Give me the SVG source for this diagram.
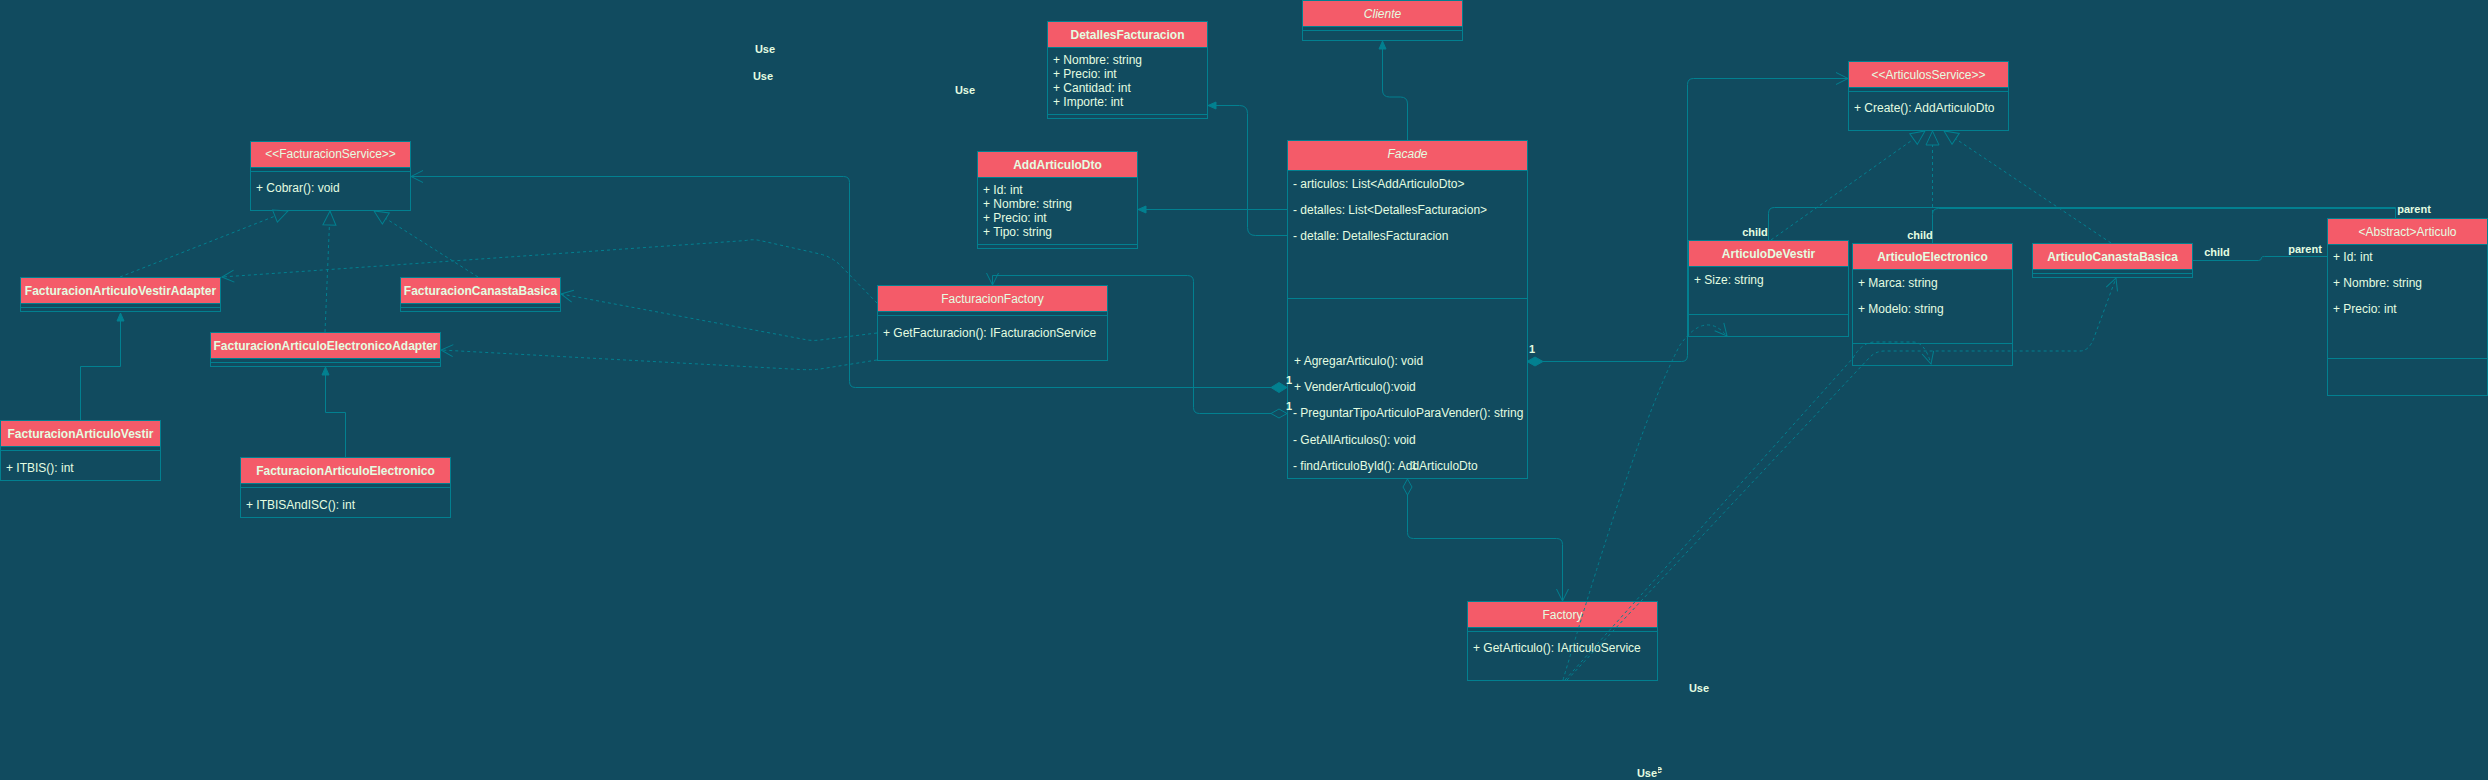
<svg xmlns="http://www.w3.org/2000/svg" width="2488" height="780" viewBox="0 0 2488 780">
<style>
.bg{fill:#114B5F}
.box{fill:#114B5F;stroke:#028090;stroke-width:1}
.hdr{fill:#F45B69;stroke:#028090;stroke-width:1}
.sep{stroke:#028090;stroke-width:1;fill:none}
.t{font-family:"Liberation Sans",Arial,sans-serif;font-size:12px;fill:#E4FDE1}
.b{font-weight:bold}
.c{text-anchor:middle}
.i{font-style:italic}
.e{fill:none;stroke:#028090;stroke-width:1}
.d{stroke-dasharray:3 3}
.l{font-family:"Liberation Sans",Arial,sans-serif;font-size:11px;fill:#E4FDE1;text-anchor:middle}
.dF{fill:#028090;stroke:#028090}
.dH{fill:#114B5F;stroke:#028090}
</style>
<defs>
<marker id="open" viewBox="0 0 14 14" markerWidth="14" markerHeight="14" refX="13" refY="7" orient="auto" markerUnits="userSpaceOnUse"><path d="M1,1 L13,7 L1,13" fill="none" stroke="#028090"/></marker>
<marker id="tri" viewBox="0 0 16 16" markerWidth="16" markerHeight="16" refX="15" refY="8" orient="auto" markerUnits="userSpaceOnUse"><path d="M1,1.5 L15,8 L1,14.5 Z" fill="#114B5F" stroke="#028090"/></marker>
<marker id="blk" viewBox="0 0 10 10" markerWidth="10" markerHeight="10" refX="9" refY="5" orient="auto" markerUnits="userSpaceOnUse"><path d="M1,1.5 L9,5 L1,8.5 Z" fill="#028090" stroke="#028090"/></marker>
</defs>
<rect class="bg" x="0" y="0" width="2488" height="780"/>

<g id="nodes">
<g id="FacturacionService">
<rect class="box" x="250.5" y="141.5" width="160" height="69"/>
<rect class="hdr" x="250.5" y="141.5" width="160" height="26"/>
<line class="sep" x1="250.5" y1="171.5" x2="410.5" y2="171.5"/>
<text class="t c" x="330.5" y="158">&lt;&lt;FacturacionService&gt;&gt;</text>
<text class="t" x="256" y="192">+ Cobrar(): void</text>
</g>
<g id="FacturacionArticuloVestirAdapter">
<rect class="box" x="20.5" y="277.5" width="200" height="34"/>
<rect class="hdr" x="20.5" y="277.5" width="200" height="26"/>
<line class="sep" x1="20.5" y1="307.5" x2="220.5" y2="307.5"/>
<text class="t b c" x="120.5" y="294.5">FacturacionArticuloVestirAdapter</text>
</g>
<g id="FacturacionCanastaBasica">
<rect class="box" x="400.5" y="277.5" width="160" height="34"/>
<rect class="hdr" x="400.5" y="277.5" width="160" height="26"/>
<line class="sep" x1="400.5" y1="307.5" x2="560.5" y2="307.5"/>
<text class="t b c" x="480.5" y="294.5">FacturacionCanastaBasica</text>
</g>
<g id="FacturacionArticuloElectronicoAdapter">
<rect class="box" x="210.5" y="332.5" width="230" height="34"/>
<rect class="hdr" x="210.5" y="332.5" width="230" height="26"/>
<line class="sep" x1="210.5" y1="362.5" x2="440.5" y2="362.5"/>
<text class="t b c" x="325.5" y="349.5">FacturacionArticuloElectronicoAdapter</text>
</g>
<g id="FacturacionArticuloVestir">
<rect class="box" x="0.5" y="420.5" width="160" height="60"/>
<rect class="hdr" x="0.5" y="420.5" width="160" height="26"/>
<line class="sep" x1="0.5" y1="450.5" x2="160.5" y2="450.5"/>
<text class="t b c" x="80.5" y="437.5">FacturacionArticuloVestir</text>
<text class="t" x="6" y="472">+ ITBIS(): int</text>
</g>
<g id="FacturacionArticuloElectronico">
<rect class="box" x="240.5" y="457.5" width="210" height="60"/>
<rect class="hdr" x="240.5" y="457.5" width="210" height="26"/>
<line class="sep" x1="240.5" y1="487.5" x2="450.5" y2="487.5"/>
<text class="t b c" x="345.5" y="474.5">FacturacionArticuloElectronico</text>
<text class="t" x="246" y="509">+ ITBISAndISC(): int</text>
</g>
<g id="FacturacionFactory">
<rect class="box" x="877.5" y="285.5" width="230" height="75"/>
<rect class="hdr" x="877.5" y="285.5" width="230" height="26"/>
<line class="sep" x1="877.5" y1="315.5" x2="1107.5" y2="315.5"/>
<text class="t c" x="992.5" y="302.5">FacturacionFactory</text>
<text class="t" x="883" y="337">+ GetFacturacion(): IFacturacionService</text>
</g>
<g id="DetallesFacturacion">
<rect class="box" x="1047.5" y="21.5" width="160" height="97"/>
<rect class="hdr" x="1047.5" y="21.5" width="160" height="26"/>
<line class="sep" x1="1047.5" y1="114.5" x2="1207.5" y2="114.5"/>
<text class="t b c" x="1127.5" y="38.5">DetallesFacturacion</text>
<text class="t" x="1053" y="64">+ Nombre: string</text>
<text class="t" x="1053" y="78">+ Precio: int</text>
<text class="t" x="1053" y="92">+ Cantidad: int</text>
<text class="t" x="1053" y="106">+ Importe: int</text>
</g>
<g id="AddArticuloDto">
<rect class="box" x="977.5" y="151.5" width="160" height="97"/>
<rect class="hdr" x="977.5" y="151.5" width="160" height="26"/>
<line class="sep" x1="977.5" y1="244.5" x2="1137.5" y2="244.5"/>
<text class="t b c" x="1057.5" y="168.5">AddArticuloDto</text>
<text class="t" x="983" y="194">+ Id: int</text>
<text class="t" x="983" y="208">+ Nombre: string</text>
<text class="t" x="983" y="222">+ Precio: int</text>
<text class="t" x="983" y="236">+ Tipo: string</text>
</g>
<g id="Cliente">
<rect class="box" x="1302.5" y="0.5" width="160" height="40"/>
<rect class="hdr" x="1302.5" y="0.5" width="160" height="26"/>
<line class="sep" x1="1302.5" y1="30.5" x2="1462.5" y2="30.5"/>
<text class="t c i" x="1382.5" y="18">Cliente</text>
</g>
<g id="Facade">
<rect class="box" x="1287.5" y="140.5" width="240" height="338"/>
<rect class="hdr" x="1287.5" y="140.5" width="240" height="30"/>
<line class="sep" x1="1287.5" y1="298.5" x2="1527.5" y2="298.5"/>
<text class="t c i" x="1407.5" y="158">Facade</text>
<text class="t" x="1293" y="188">- articulos: List&lt;AddArticuloDto&gt;</text>
<text class="t" x="1293" y="214">- detalles: List&lt;DetallesFacturacion&gt;</text>
<text class="t" x="1293" y="240">- detalle: DetallesFacturacion</text>
<text class="t" x="1294" y="365">+ AgregarArticulo(): void</text>
<text class="t" x="1294" y="391">+ VenderArticulo():void</text>
<text class="t" x="1293" y="417">- PreguntarTipoArticuloParaVender(): string</text>
<text class="t" x="1293" y="444">- GetAllArticulos(): void</text>
<text class="t" x="1293" y="470">- findArticuloById(): AddArticuloDto</text>
</g>
<g id="Factory">
<rect class="box" x="1467.5" y="601.5" width="190" height="79"/>
<rect class="hdr" x="1467.5" y="601.5" width="190" height="26"/>
<line class="sep" x1="1467.5" y1="631.5" x2="1657.5" y2="631.5"/>
<text class="t c" x="1562.5" y="618.5">Factory</text>
<text class="t" x="1473" y="652">+ GetArticulo(): IArticuloService</text>
</g>
<g id="ArticulosService">
<rect class="box" x="1848.5" y="61.5" width="160" height="69"/>
<rect class="hdr" x="1848.5" y="61.5" width="160" height="26"/>
<line class="sep" x1="1848.5" y1="91.5" x2="2008.5" y2="91.5"/>
<text class="t c" x="1928.5" y="78.5">&lt;&lt;ArticulosService&gt;&gt;</text>
<text class="t" x="1854" y="112">+ Create(): AddArticuloDto</text>
</g>
<g id="ArticuloDeVestir">
<rect class="box" x="1688.5" y="240.5" width="160" height="96"/>
<rect class="hdr" x="1688.5" y="240.5" width="160" height="26"/>
<line class="sep" x1="1688.5" y1="314.5" x2="1848.5" y2="314.5"/>
<text class="t b c" x="1768.5" y="257.5">ArticuloDeVestir</text>
<text class="t" x="1694" y="284">+ Size: string</text>
</g>
<g id="ArticuloElectronico">
<rect class="box" x="1852.5" y="243.5" width="160" height="122"/>
<rect class="hdr" x="1852.5" y="243.5" width="160" height="26"/>
<line class="sep" x1="1852.5" y1="343.5" x2="2012.5" y2="343.5"/>
<text class="t b c" x="1932.5" y="260.5">ArticuloElectronico</text>
<text class="t" x="1858" y="287">+ Marca: string</text>
<text class="t" x="1858" y="313">+ Modelo: string</text>
</g>
<g id="ArticuloCanastaBasica">
<rect class="box" x="2032.5" y="243.5" width="160" height="34"/>
<rect class="hdr" x="2032.5" y="243.5" width="160" height="26"/>
<line class="sep" x1="2032.5" y1="273.5" x2="2192.5" y2="273.5"/>
<text class="t b c" x="2112.5" y="260.5">ArticuloCanastaBasica</text>
</g>
<g id="Articulo">
<rect class="box" x="2327.5" y="218.5" width="160" height="177"/>
<rect class="hdr" x="2327.5" y="218.5" width="160" height="26"/>
<line class="sep" x1="2327.5" y1="358.5" x2="2487.5" y2="358.5"/>
<text class="t c" x="2407.5" y="235.5">&lt;Abstract&gt;Articulo</text>
<text class="t" x="2333" y="261">+ Id: int</text>
<text class="t" x="2333" y="287">+ Nombre: string</text>
<text class="t" x="2333" y="313">+ Precio: int</text>
</g>
</g>

<g id="connectors">
<!-- left group -->
<path class="e" d="M80.5,420 V366.5 H120.5 V313" marker-end="url(#blk)"/>
<path class="e" d="M345.5,457 V412.5 H325.5 V367" marker-end="url(#blk)"/>
<path class="e d" d="M120,277 L288,211" marker-end="url(#tri)"/>
<path class="e d" d="M325,332 L330,211" marker-end="url(#tri)"/>
<path class="e d" d="M478,277 L374,211" marker-end="url(#tri)"/>
<!-- Facade -> FacturacionService -->
<path class="e" d="M1271,387.5 H855.5 Q849.5,387.5 849.5,381.5 V182.5 Q849.5,176.5 843.5,176.5 H411" marker-end="url(#open)"/>
<polygon class="dF" points="1287,387.5 1279,382.5 1271,387.5 1279,392.5"/>
<!-- Facade -> FacturacionFactory -->
<path class="e" d="M1271,413.5 H1199.5 Q1193.5,413.5 1193.5,407.5 V281.5 Q1193.5,275.5 1187.5,275.5 H992.5 V285" marker-end="url(#open)"/>
<polygon class="dH" points="1287,413.5 1279,409 1271,413.5 1279,418"/>
<!-- FacturacionFactory dashed uses -->
<path class="e d" d="M877,303 L840,265 Q832,257 820,254 L760,240.5 Q753,239 746,240.5 L222,277" marker-end="url(#open)"/>
<path class="e d" d="M877,333 L820,340 Q812,341 805,339.5 L561,294" marker-end="url(#open)"/>
<path class="e d" d="M877,360 L820,369 Q812,370 800,369.5 L441,350" marker-end="url(#open)"/>
<!-- Facade -> DetallesFacturacion / AddArticuloDto -->
<path class="e" d="M1287,235.5 H1255.5 Q1247.5,235.5 1247.5,227.5 V113.5 Q1247.5,105.5 1239.5,105.5 H1208" marker-end="url(#blk)"/>
<path class="e" d="M1287,209.5 H1138" marker-end="url(#blk)"/>
<!-- Facade -> Cliente -->
<path class="e" d="M1407.5,140 V104 Q1407.5,97 1400.5,97 H1389.5 Q1382.5,97 1382.5,90 V41" marker-end="url(#blk)"/>
<!-- Facade -> Factory -->
<path class="e" d="M1407.5,495 V532.5 Q1407.5,538.5 1413.5,538.5 H1556.5 Q1562.5,538.5 1562.5,544.5 V601" marker-end="url(#open)"/>
<polygon class="dH" points="1407.5,479 1412,487 1407.5,495 1403,487"/>
<!-- Facade -> ArticulosService -->
<path class="e" d="M1543,361.5 H1681.5 Q1687.5,361.5 1687.5,355.5 V84.5 Q1687.5,78.5 1693.5,78.5 H1848" marker-end="url(#open)"/>
<polygon class="dF" points="1527,361.5 1535,357 1543,361.5 1535,366"/>
<!-- realizations to ArticulosService -->
<path class="e d" d="M1771,240 L1925,131" marker-end="url(#tri)"/>
<path class="e d" d="M1932.5,243 V131" marker-end="url(#tri)"/>
<path class="e d" d="M2111,243 L1944,131" marker-end="url(#tri)"/>
<!-- generalizations to Articulo -->
<path class="e" d="M1768.5,240 V213.5 Q1768.5,207.5 1774.5,207.5 H2395.5 V218"/>
<path class="e" d="M1932.5,243 V214.5 Q1932.5,208.5 1938.5,208.5 H2395.5"/>
<path class="e" d="M2192,260.5 H2258.5 Q2261.5,260.5 2261.5,257.5 Q2261.5,256.5 2264.5,256.5 H2327"/>
<!-- Factory dashed uses -->
<path class="e d" d="M1563,680 Q1640,420 1680,345 Q1705,310 1727,336" marker-end="url(#open)"/>
<path class="e d" d="M1565,680 L1853,358 Q1862,342 1875,342 H1913 Q1925,342 1931,364" marker-end="url(#open)"/>
<path class="e d" d="M1567,680 L1870,357 Q1876,351 1885,351 H2080 Q2090,351 2095,335 L2116,278" marker-end="url(#open)"/>
<!-- labels -->
<text class="l b" x="1289" y="384">1</text>
<text class="l b" x="1289" y="410">1</text>
<text class="l b" x="1532" y="353">1</text>
<text class="l" x="1414" y="469">1</text>
<text class="l b" x="1755" y="236">child</text>
<text class="l b" x="1920" y="239">child</text>
<text class="l b" x="2217" y="256">child</text>
<text class="l b" x="2305" y="253">parent</text>
<text class="l b" x="2414" y="213">parent</text>
<text class="l b" x="765" y="53">Use</text>
<text class="l b" x="763" y="80">Use</text>
<text class="l b" x="965" y="94">Use</text>
<text class="l b" x="1699" y="692">Use</text>
<text class="l b" x="1652" y="773">Use</text>
<rect class="bg" x="1636" y="765" width="22" height="15"/>
<text class="l b" x="1647" y="777">Use</text>
</g>
</svg>
